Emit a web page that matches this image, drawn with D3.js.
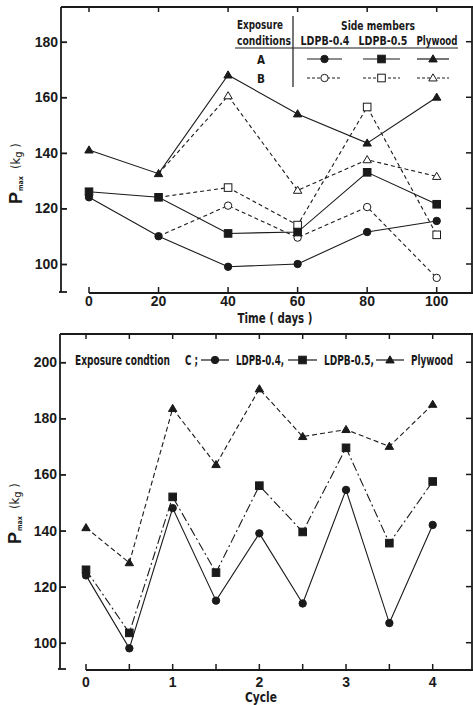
<!DOCTYPE html>
<html>
<head>
<meta charset="utf-8">
<script src="https://d3js.org/d3.v7.min.js"></script>
<style>
  body { margin: 0; background: #fff; }
  svg { display: block; }
  .num { font-family: "Liberation Sans", Arial, sans-serif; font-weight: bold; font-size: 14px; fill: #1a1a1a; }
  .lab { font-family: "DejaVu Sans Condensed", "DejaVu Sans", sans-serif; font-weight: bold; font-size: 14px; fill: #1a1a1a; }
</style>
</head>
<body>
<svg width="473" height="705"></svg>
<script>

// ---- top panel: exposure conditions A (solid) and B (dashed)
const days = [0, 20, 40, 60, 80, 100];
const aLdpb04 = [124, 110, 99, 100, 111.5, 115.5];
const aLdpb05 = [126, 124, 111, 111.5, 133, 121.5];
const aPly    = [141, 132.5, 168, 154, 143.5, 160];

// B shares the day 0-20 values, then diverges
const bDays    = [20, 40, 60, 80, 100];
const bLdpb04  = [110, 121, 109.5, 120.5, 95];
const bLdpb05  = [124, 127.5, 114, 156.5, 110.5];
const bPly     = [132.5, 160.5, 126.5, 137.5, 131.5];

const topYTicks = [100, 120, 140, 160, 180];
const topXTicks = [0, 20, 40, 60, 80, 100];

// ---- bottom panel: exposure condition C
const cycles  = [0, 0.5, 1, 1.5, 2, 2.5, 3, 3.5, 4];
const cLdpb04 = [124, 98, 148, 115, 139, 114, 154.5, 107, 142];
const cLdpb05 = [126, 103.5, 152, 125, 156, 139.5, 169.5, 135.5, 157.5];
const cPly    = [141, 128.5, 183.5, 163.5, 190.5, 173.5, 176, 170, 185];

const botYTicks = [100, 120, 140, 160, 180, 200];
const botXTicks = [0, 0.5, 1, 1.5, 2, 2.5, 3, 3.5, 4];
const botXLabels = [0, 1, 2, 3, 4];

const ink = '#1a1a1a';
let svg = d3.select('svg');

// condensed typewriter-ish label, squeezed horizontally to a given width
let narrow = (g, x, y, s, w, anchor, size) => {
  let t = g.append('text').attr('class', 'lab').attr('text-anchor', anchor || 'middle').text(s);
  if (size) t.style('font-size', size + 'px');
  let nat = t.node().getComputedTextLength();
  let sx = Math.min(1, w / nat);
  t.attr('transform', `translate(${x},${y}) scale(${sx},1)`);
  return t;
};

// marker helper
let marker = (g, shape, filled, x, y) => {
  let fill = filled ? ink : '#fff';
  if (shape === 'circle') {
    g.append('circle').attr('cx', x).attr('cy', y).attr('r', 3.7)
      .style('fill', fill).style('stroke', ink).style('stroke-width', 1);
  } else if (shape === 'square') {
    g.append('rect').attr('x', x - 3.8).attr('y', y - 3.8).attr('width', 7.6).attr('height', 7.6)
      .style('fill', fill).style('stroke', ink).style('stroke-width', 1);
  } else {
    let s = 4.2;
    g.append('path').attr('d', `M${x},${y - s}L${x + s},${y + s * 0.7}L${x - s},${y + s * 0.7}Z`)
      .style('fill', fill).style('stroke', ink).style('stroke-width', 1);
  }
};

let drawSeries = (g, xs, ys, x, y, dash, shape, filled, markFrom) => {
  let pts = xs.map((d, i) => [x(d), y(ys[i])]);
  g.append('path').attr('d', d3.line()(pts))
    .style('fill', 'none').style('stroke', ink).style('stroke-width', 1.1)
    .style('stroke-dasharray', dash);
  pts.forEach((p, i) => { if (i >= markFrom) marker(g, shape, filled, p[0], p[1]); });
};

let frame = (g, left, top, bottom, xStart, x, y, xt, yt) => {
  let ln = (x1, y1, x2, y2, w) => g.append('line').attr('x1', x1).attr('y1', y1).attr('x2', x2).attr('y2', y2)
    .style('stroke', ink).style('stroke-width', w || 1.8);
  ln(left, top, left, bottom);
  ln(left - 2, bottom, left + 6, bottom);
  ln(left, top, 473, top);
  ln(xStart, bottom + 1, 473, bottom + 1);
  ln(472, top, 472, bottom);

  let ya = g.append('g').attr('transform', `translate(${left},0)`)
    .call(d3.axisLeft(y).tickValues(yt).tickSize(-6).tickPadding(3).tickFormat(d3.format('d')));
  ya.select('.domain').remove();
  ya.selectAll('line').style('stroke', ink).style('stroke-width', 1.8);
  ya.selectAll('text').attr('class', 'num').attr('font-size', null).attr('font-family', null);

  // right side inward ticks
  yt.forEach(v => ln(466, y(v), 472, y(v), 1.5));
  // top ticks
  xt.forEach(v => ln(x(v), top, x(v), top + 5, 1.5));
  // bottom ticks
  xt.forEach(v => ln(x(v), bottom + 1, x(v), bottom - 5, 1.5));
};

// rotated P_max (kg) label; (cx, cy) is the baseline point where "P" starts
let yLabel = (g, cx, cy) => {
  let t = g.append('text').attr('transform', `translate(${cx},${cy}) rotate(-90)`)
    .attr('text-anchor', 'start').style('fill', ink);
  t.append('tspan').text('P').attr('font-family', 'Liberation Sans, Arial, sans-serif')
    .attr('font-weight', 'bold').attr('font-size', 18);
  t.append('tspan').text('max').attr('dy', 1).attr('dx', 1).attr('font-family', 'DejaVu Sans Condensed, sans-serif')
    .attr('font-weight', 'bold').attr('font-size', 7);
  t.append('tspan').text('(k').attr('dy', -3).attr('dx', 7).attr('font-family', 'DejaVu Sans Condensed, sans-serif')
    .attr('font-size', 13);
  t.append('tspan').text('g').attr('dy', 2).attr('font-family', 'DejaVu Sans Condensed, sans-serif')
    .attr('font-size', 11);
  t.append('tspan').text(' )').attr('dy', -2).attr('font-family', 'DejaVu Sans Condensed, sans-serif')
    .attr('font-size', 13);
};

// ================= TOP PANEL
{
  let g = svg.append('g');
  let x = d3.scaleLinear().domain([0, 100]).range([89, 436.7]);
  let y = d3.scaleLinear().domain([100, 180]).range([264, 41.7]);

  frame(g, 61, 7, 292, 89, x, y, topXTicks, topYTicks);

  topXTicks.forEach(v => g.append('text').attr('class', 'num').attr('x', x(v)).attr('y', 306)
    .attr('text-anchor', 'middle').text(v));
  narrow(g, 275, 323, 'Time ( days )', 75);
  yLabel(g, 22, 204);

  drawSeries(g, bDays, bLdpb04, x, y, '4,3', 'circle', false, 1);
  drawSeries(g, bDays, bLdpb05, x, y, '4,3', 'square', false, 1);
  drawSeries(g, bDays, bPly, x, y, '4,3', 'triangle', false, 1);
  drawSeries(g, days, aLdpb04, x, y, null, 'circle', true, 0);
  drawSeries(g, days, aLdpb05, x, y, null, 'square', true, 0);
  drawSeries(g, days, aPly, x, y, null, 'triangle', true, 0);

  // legend table
  let lg = g.append('g');
  lg.append('line').attr('x1', 293).attr('y1', 16).attr('x2', 293).attr('y2', 87).style('stroke', ink).style('stroke-width', 1.2);
  lg.append('line').attr('x1', 235).attr('y1', 48).attr('x2', 458).attr('y2', 48).style('stroke', ink).style('stroke-width', 1.2);
  narrow(lg, 260, 29, 'Exposure', 46, 'middle', 13);
  narrow(lg, 264, 44.5, 'conditions', 54, 'middle', 13);
  narrow(lg, 378, 29.5, 'Side members', 74, 'middle', 13);
  narrow(lg, 325, 45, 'LDPB-0.4', 49, 'middle', 13);
  narrow(lg, 383, 45, 'LDPB-0.5', 49, 'middle', 13);
  narrow(lg, 437, 45, 'Plywood', 41, 'middle', 13);
  narrow(lg, 261, 64, 'A', 8, 'middle', 13);
  narrow(lg, 261, 83, 'B', 8, 'middle', 13);
  const legendCols = [[307, 342, 'circle'], [363, 400, 'square'], [417, 449, 'triangle']];
  legendCols.forEach(c => {
    let mid = (c[0] + c[1]) / 2;
    lg.append('line').attr('x1', c[0]).attr('y1', 59).attr('x2', c[1]).attr('y2', 59).style('stroke', ink).style('stroke-width', 1.2);
    marker(lg, c[2], true, mid, 59);
    lg.append('line').attr('x1', c[0]).attr('y1', 78).attr('x2', c[1]).attr('y2', 78).style('stroke', ink)
      .style('stroke-width', 1).style('stroke-dasharray', '3,2');
    marker(lg, c[2], false, mid, 78);
  });
}

// ================= BOTTOM PANEL
{
  let g = svg.append('g');
  let x = d3.scaleLinear().domain([0, 4]).range([86, 432.7]);
  let y = d3.scaleLinear().domain([100, 200]).range([642.7, 362.3]);

  frame(g, 60, 334, 669, 86, x, y, botXTicks, botYTicks);

  botXLabels.forEach(v => g.append('text').attr('class', 'num').attr('x', x(v)).attr('y', 687)
    .attr('text-anchor', 'middle').text(v));
  narrow(g, 261, 702, 'Cycle', 32);
  yLabel(g, 21, 544);

  drawSeries(g, cycles, cPly, x, y, '5,3', 'triangle', true, 0);
  drawSeries(g, cycles, cLdpb05, x, y, '9,3,2,3', 'square', true, 0);
  drawSeries(g, cycles, cLdpb04, x, y, null, 'circle', true, 0);

  // inline legend
  let lg = g.append('g');
  let ly = 360;
  narrow(lg, 75, ly + 5, 'Exposure condtion', 95, 'start');
  narrow(lg, 185, ly + 5, 'C ;', 13, 'start');
  const items = [[201, 229, 'circle', 'LDPB-0.4,', 48], [288, 317, 'square', 'LDPB-0.5,', 50], [376, 404, 'triangle', 'Plywood', 42]];
  items.forEach(it => {
    lg.append('line').attr('x1', it[0]).attr('y1', ly).attr('x2', it[1]).attr('y2', ly).style('stroke', ink).style('stroke-width', 1.2);
    marker(lg, it[2], true, (it[0] + it[1]) / 2, ly);
    narrow(lg, it[1] + 7, ly + 5, it[3], it[4], 'start');
  });
}

</script>
</body>
</html>
